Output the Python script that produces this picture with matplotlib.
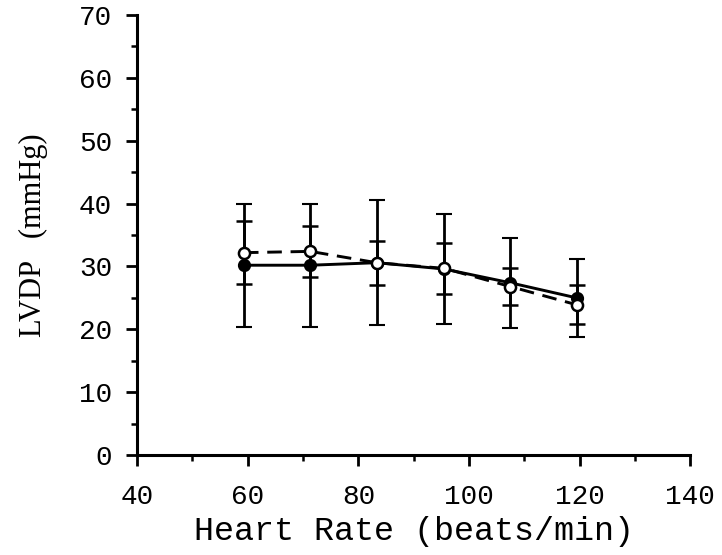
import matplotlib
matplotlib.use("Agg")
import matplotlib.pyplot as plt
from matplotlib.ticker import MultipleLocator

heart_rate = [59.3, 71.3, 83.3, 95.5, 107.5, 119.5]
filled_mean = [30.2, 30.2, 30.6, 29.6, 27.4, 25.0]
filled_sd = [9.8, 9.8, 9.9, 8.8, 7.2, 6.2]
open_mean = [32.2, 32.4, 30.6, 29.7, 26.8, 23.9]
open_sd = [5.0, 4.0, 3.5, 4.0, 2.9, 3.1]

x_ticks = [40, 60, 80, 100, 120, 140]
y_ticks = [0, 10, 20, 30, 40, 50, 60, 70]

fig = plt.figure(figsize=(7.22, 5.55), dpi=100)
ax = fig.add_axes([0.19, 0.18, 0.766, 0.793])

mono = "Liberation Mono"
serif = "Liberation Serif"

ax.errorbar(heart_rate, filled_mean, yerr=filled_sd, fmt='-o', color='black',
            lw=2.1, elinewidth=2.0, capsize=5.5, capthick=2.2,
            ms=8, mfc='black', mec='black', mew=1.5, zorder=3)
ax.errorbar(heart_rate, open_mean, yerr=open_sd, fmt='--o', color='black',
            lw=2.1, elinewidth=2.0, capsize=5.5, capthick=2.2, dashes=(5, 3),
            ms=8, mfc='white', mec='black', mew=1.8, zorder=4)

ax.set_xlim(40, 140)
ax.set_ylim(0, 70)
ax.set_xticks(x_ticks)
ax.set_yticks(y_ticks)
ax.xaxis.set_minor_locator(MultipleLocator(10))
ax.yaxis.set_minor_locator(MultipleLocator(5))

for s in ['top', 'right']:
    ax.spines[s].set_visible(False)
for s in ['left', 'bottom']:
    ax.spines[s].set_linewidth(2.2)

ax.tick_params(axis='both', which='major', direction='out', length=8, width=2.0,
               labelsize=20, pad=10)
ax.tick_params(axis='both', which='minor', direction='out', length=4, width=1.8)
ax.tick_params(axis='x', which='major', pad=13)

for lbl in ax.get_xticklabels() + ax.get_yticklabels():
    lbl.set_fontfamily(mono)

ax.set_xlabel("Heart Rate (beats/min)", fontfamily=mono, fontsize=24, labelpad=4)
ax.set_ylabel("LVDP   (mmHg)", fontfamily=serif, fontsize=22, labelpad=22)

fig.savefig("out.png", dpi=100)
